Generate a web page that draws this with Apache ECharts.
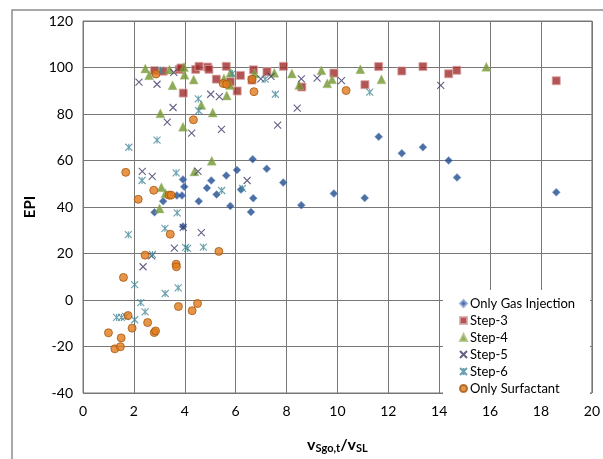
<!DOCTYPE html>
<html>
<head>
<meta charset="utf-8">
<script src="https://cdn.jsdelivr.net/npm/echarts@6/dist/echarts.min.js"></script>
<style>html,body{margin:0;padding:0;background:#fff}#c{width:603px;height:459px}</style>
</head>
<body>
<div id="c"></div>
<script>
// ---- Data (x = vSgo,t / vSL, y = EPI) ----
const seriesNames = ['Only Gas Injection','Step-3','Step-4','Step-5','Step-6','Only Surfactant'];

const onlyGasInjection = [[2.81,37.7],[3.15,42.5],[3.69,45],[3.89,45],[3.93,51.8],[3.98,48.7],[3.93,31.6],[4.55,42.5],[4.87,48.2],[5.04,51.4],[5.25,45.4],[5.63,53.5],[5.79,40.4],[6.05,55.9],[6.21,47.5],[6.6,37.9],[6.67,60.5],[6.69,43.8],[7.22,56.4],[7.87,50.5],[8.58,40.8],[9.86,45.8],[11.07,43.9],[11.62,70.2],[12.53,63.1],[13.36,65.7],[14.37,60],[14.7,52.7],[18.6,46.3]];

const step3 = [[2.81,98.6],[3.15,98.4],[3.78,99.1],[3.85,99.8],[3.94,89],[4.43,99.2],[4.56,100.5],[4.9,100.2],[4.95,99.2],[5.24,95],[5.63,100.5],[5.79,93.9],[6.06,89.9],[6.19,96.6],[6.64,94.6],[6.7,99],[7.23,98.2],[7.88,100.5],[8.6,91.6],[9.86,97.6],[11.08,92.6],[11.62,100.4],[12.53,98.5],[13.36,100.4],[14.37,97.3],[14.69,98.8],[18.6,94.3]];

const step4 = [[2.45,99.6],[2.6,96.7],[3.4,99.1],[3.04,80.3],[3.52,92.4],[3.93,74.5],[3.99,96.9],[3.97,100.2],[4.35,94.8],[4.65,83.9],[5.1,80.6],[5.54,95.3],[5.65,88],[5.78,92.5],[5.8,97.8],[6.74,97.4],[7.52,97.7],[8.21,97.4],[8.5,92.5],[9.37,98.8],[9.6,93.2],[9.79,94.9],[10.9,99.3],[11.73,94.9],[15.85,100.3],[5.06,59.9],[4.38,55.3],[3.08,48.5],[3.24,45.9],[3.01,39.4]];

const step5 = [[2.2,93.7],[2.91,92.8],[3.57,97.9],[3.54,82.8],[3.31,76.5],[4.27,71.8],[5.02,88.5],[5.36,87.5],[5.44,73.4],[6.99,95.1],[7.39,96.2],[7.65,75.2],[8.42,82.5],[8.58,95.1],[9.2,95.4],[10.16,94.4],[14.06,92.3],[2.33,55.3],[2.72,53.2],[4.52,55.3],[6.45,51.4],[3.94,31.2],[4.65,29],[3.59,22.3],[2.7,19],[2.36,14.3]];

const step6 = [[1.8,65.7],[2.91,68.8],[4.53,86.5],[4.55,81.4],[5.87,97.4],[7.16,95],[7.56,88.5],[11.27,89.4],[3.66,54.7],[2.32,51.4],[5.45,47.1],[6.27,48],[3.7,37.5],[1.78,28.1],[3.22,30.8],[2.73,19.6],[4.03,22.6],[4.11,22.2],[4.73,22.7],[2.03,6.6],[3.23,2.8],[3.74,5.2],[2.27,-1.1],[2.44,-5.1],[1.32,-7.5],[1.51,-7.5],[1.68,-7.1],[2.03,-8.5],[3.05,98.8]];

const onlySurfactant = [[2.87,97.2],[5.51,93.1],[5.64,92.8],[6.64,94.9],[6.72,89.6],[4.34,77.5],[10.34,90.1],[1.68,54.9],[2.17,43.3],[2.78,47.2],[3.38,45.1],[3.46,45.1],[3.43,28.3],[2.44,19.3],[3.66,15.4],[3.67,14.3],[5.34,20.9],[1.59,9.7],[3.75,-2.8],[4.29,-4.6],[4.5,-1.5],[1.77,-6.7],[1.93,-12.1],[2.54,-9.7],[1.0,-14.1],[1.5,-16.3],[1.25,-21],[1.47,-20.1],[2.8,-14],[2.85,-13.3]];

const xTicks = {min:0, max:20, interval:2};
const yTicks = {min:-40, max:120, interval:20};

// ---- Chart ----
const FONT = 'Lato, "Open Sans", "Liberation Sans", sans-serif';
const chart = echarts.init(document.getElementById('c'), null, {renderer:'canvas'});
const xPath = 'path://M0,0L10,10M10,0L0,10';
const starPath = 'path://M0,0L10,10M10,0L0,10M5,0L5,10';

chart.setOption({
  animation:false,
  backgroundColor:'#fff',
  textStyle:{fontFamily:FONT},
  graphic:[
    {type:'rect', z:-10, shape:{x:12,y:10,width:640,height:500}, style:{fill:'none', stroke:'#8c8c8c', lineWidth:1.5}},
    {type:'rect', z:3, shape:{x:443,y:290,width:147,height:104}, style:{fill:'#fff'}}
  ],
  grid:{left:83, right:6, top:21, bottom:64, show:true, borderColor:'#777', borderWidth:1},
  legend:{
    orient:'vertical', left:454, top:292, z:10,
    data:seriesNames,
    itemWidth:7, itemHeight:7, itemGap:4,
    textStyle:{fontFamily:FONT, fontSize:13, color:'#000', lineHeight:13, padding:[0,0,0,-2]}
  },
  xAxis:{
    type:'value', min:xTicks.min, max:xTicks.max, interval:xTicks.interval,
    axisLine:{show:true, lineStyle:{color:'#777'}},
    axisTick:{show:false},
    splitLine:{show:true, lineStyle:{color:'#777', width:1}},
    axisLabel:{color:'#000', fontSize:14, fontFamily:FONT, margin:11},
    name:'{a|v}{s|Sgo,t}{a|/v}{s|SL}',
    nameLocation:'middle', nameGap:42,
    nameTextStyle:{rich:{
      a:{fontSize:16, fontWeight:'bold', color:'#000', fontFamily:FONT},
      s:{fontSize:11, fontWeight:'bold', color:'#000', fontFamily:FONT, padding:[8,0,0,0]}
    }}
  },
  yAxis:{
    type:'value', min:yTicks.min, max:yTicks.max, interval:yTicks.interval,
    axisLine:{show:true, lineStyle:{color:'#777'}},
    axisTick:{show:false},
    splitLine:{show:true, lineStyle:{color:'#777', width:1}},
    axisLabel:{color:'#000', fontSize:14, fontFamily:FONT, margin:10},
    name:'EPI', nameLocation:'middle', nameGap:38,
    nameTextStyle:{fontSize:15, fontWeight:'bold', color:'#000', fontFamily:FONT}
  },
  series:[
    {name:seriesNames[0], type:'scatter', data:onlyGasInjection, symbol:'diamond', symbolSize:8,
     itemStyle:{color:'#1f4b8e', borderColor:'#8ea8d4', borderWidth:0.6}, z:4},
    {name:seriesNames[1], type:'scatter', data:step3, symbol:'rect', symbolSize:8,
     itemStyle:{color:'#9e2b2b', borderColor:'#dba3a3', borderWidth:1}, z:4},
    {name:seriesNames[2], type:'scatter', data:step4, symbol:'triangle', symbolSize:9,
     itemStyle:{color:'#73952e', borderColor:'#a7c27a', borderWidth:0.5}, z:4},
    {name:seriesNames[3], type:'scatter', data:step5, symbol:xPath, symbolSize:7,
     itemStyle:{color:'rgba(0,0,0,0)', borderColor:'#3e3868', borderWidth:1.1}, z:4},
    {name:seriesNames[4], type:'scatter', data:step6, symbol:starPath, symbolSize:7,
     itemStyle:{color:'rgba(0,0,0,0)', borderColor:'#46889a', borderWidth:1.1}, z:4},
    {name:seriesNames[5], type:'scatter', data:onlySurfactant, symbol:'circle', symbolSize:8,
     itemStyle:{color:'#e07a1c', borderColor:'#a85812', borderWidth:1}, z:4}
  ]
});
</script>
</body>
</html>
